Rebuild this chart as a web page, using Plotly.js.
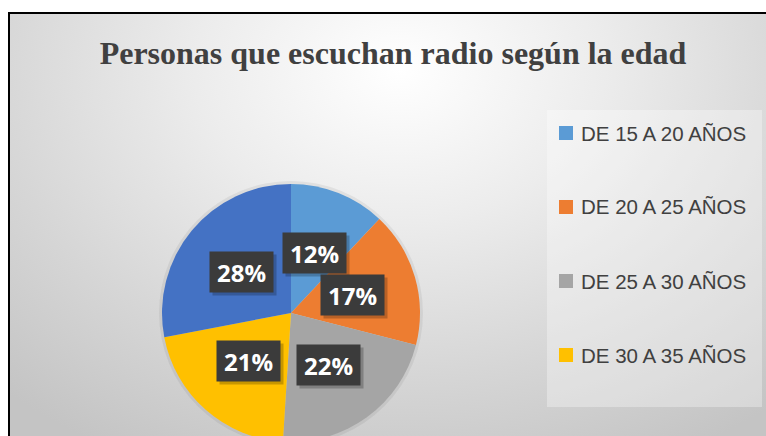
<!DOCTYPE html>
<html>
<head>
<meta charset="utf-8">
<script src="https://cdn.plot.ly/plotly-3.0.1.min.js"></script>
<style>
  html, body { margin:0; padding:0; background:#ffffff; overflow:hidden; width:766px; height:436px; }
  #bg { position:absolute; left:8px; top:12px; width:780px; height:460px;
        border-top:2px solid #000; border-left:2px solid #000;
        background: radial-gradient(ellipse 75% 95% at 50% 12%, #ffffff 0%, #ececec 35%, #d6d6d6 70%, #c4c4c4 100%); }
  #chart { position:absolute; left:0; top:0; width:766px; height:460px; }
</style>
</head>
<body>
<div id="bg"></div>
<div id="chart"></div>
<script>
const categories = ["DE 15 A 20 AÑOS", "DE 20 A 25 AÑOS", "DE 25 A 30 AÑOS", "DE 30 A 35 AÑOS", "DE 35 A 40 AÑOS"];
const values = [12, 17, 22, 21, 28];
const colors = ["#5B9BD5", "#ED7D31", "#A5A5A5", "#FFC000", "#4472C4"];
const legendShown = 4; // the original legend only shows the first four entries
const titleText = "Personas que escuchan radio según la edad";

const W = 766, H = 460;
const cxPx = 291, cyPx = 313, rPx = 129;

const domain = {
  x: [(cxPx - rPx) / W, (cxPx + rPx) / W],
  y: [(H - cyPx - rPx) / H, (H - cyPx + rPx) / H]
};

const trace = {
  type: "pie",
  labels: categories,
  values: values,
  sort: false,
  direction: "clockwise",
  rotation: 0,
  marker: { colors: colors, line: { width: 0 } },
  textinfo: "none",
  hoverinfo: "label+percent",
  showlegend: false,
  domain: domain
};

const annotations = [];
const shapes = [];

// soft shadow around the pie
shapes.push({
  type: "circle", xref: "paper", yref: "paper",
  x0: (cxPx - rPx - 3) / W, x1: (cxPx + rPx + 3) / W,
  y0: 1 - (cyPx + rPx + 3) / H, y1: 1 - (cyPx - rPx - 3) / H,
  fillcolor: "rgba(0,0,0,0.06)", line: { width: 0 }, layer: "below"
});

// data labels at mid-angle, half the radius
const total = values.reduce((a, b) => a + b, 0);
let cum = 0;
values.forEach((v, i) => {
  const mid = (cum + v / 2) / total * 2 * Math.PI;
  cum += v;
  const px = cxPx + 0.5 * rPx * Math.sin(mid);
  const py = cyPx - 0.5 * rPx * Math.cos(mid);
  const txt = "<b>" + Math.round(v / total * 100) + "%</b>";
  // shadow
  annotations.push({
    xref: "paper", yref: "paper",
    x: (px + 3) / W, y: 1 - (py + 3) / H,
    xanchor: "center", yanchor: "middle",
    text: " ", showarrow: false,
    bgcolor: "rgba(0,0,0,0.22)", width: 63, height: 40, borderpad: 0
  });
  annotations.push({
    xref: "paper", yref: "paper",
    x: px / W, y: 1 - py / H,
    xanchor: "center", yanchor: "middle",
    text: txt,
    showarrow: false,
    font: { family: "Open Sans, Liberation Sans, sans-serif", size: 24, color: "#ffffff" },
    bgcolor: "#3b3b3b",
    width: 63, height: 40,
    borderpad: 0
  });
});

// legend box
shapes.push({
  type: "rect", xref: "paper", yref: "paper",
  x0: 547 / W, x1: 762 / W, y0: 1 - 407 / H, y1: 1 - 110 / H,
  fillcolor: "rgba(255,255,255,0.32)", line: { width: 0 }, layer: "below"
});

const legTop = 133, legStep = 74;
for (let i = 0; i < legendShown; i++) {
  const yc = legTop + i * legStep;
  shapes.push({
    type: "rect", xref: "paper", yref: "paper",
    x0: 559 / W, x1: 573 / W, y0: 1 - (yc + 7) / H, y1: 1 - (yc - 7) / H,
    fillcolor: colors[i], line: { width: 0 }
  });
  annotations.push({
    xref: "paper", yref: "paper",
    x: 579 / W, y: 1 - yc / H,
    xanchor: "left", yanchor: "middle",
    text: categories[i],
    showarrow: false,
    font: { family: "Liberation Sans, Arial, sans-serif", size: 20.5, color: "#404040" }
  });
}

const layout = {
  width: W, height: H,
  margin: { l: 0, r: 0, t: 0, b: 0 },
  paper_bgcolor: "rgba(0,0,0,0)",
  plot_bgcolor: "rgba(0,0,0,0)",
  title: {
    text: "<b>" + titleText + "</b>",
    font: { family: "Liberation Serif, Times New Roman, serif", size: 32, color: "#404040" },
    x: 393 / W, xanchor: "center", xref: "paper",
    y: 1 - 53 / H, yanchor: "middle", yref: "paper"
  },
  annotations: annotations,
  shapes: shapes
};

Plotly.newPlot("chart", [trace], layout, { displayModeBar: false, staticPlot: true });
</script>
</body>
</html>
